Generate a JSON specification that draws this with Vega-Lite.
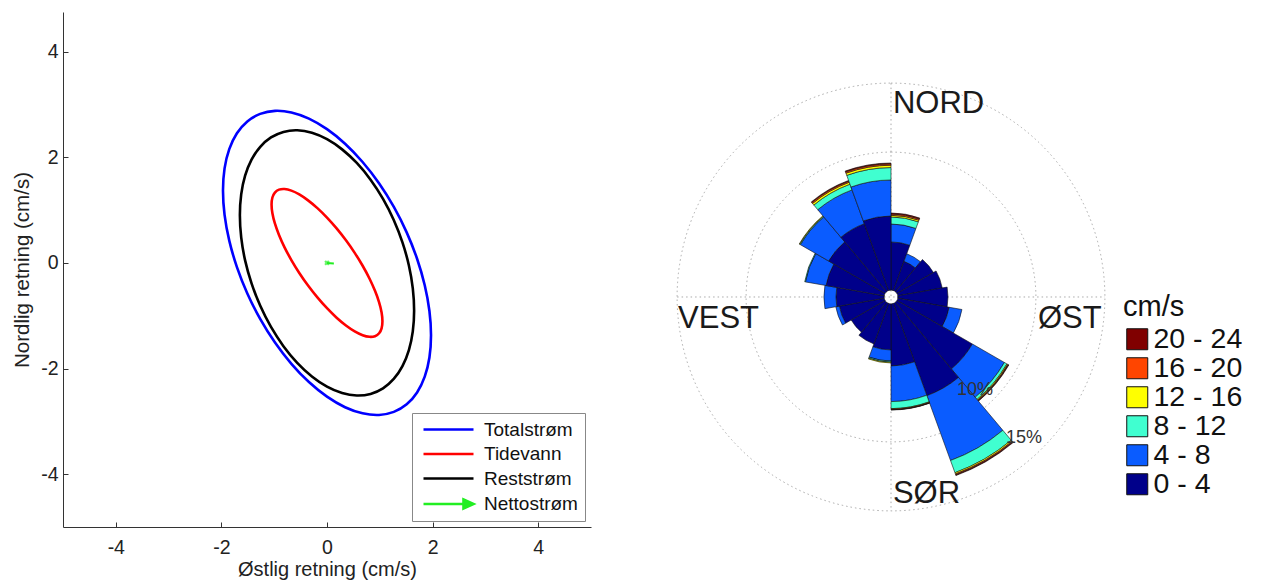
{
"$schema": "https://vega.github.io/schema/vega-lite/v6.json",
"background": "white",
"padding": {"left": 12, "top": 12, "right": 0, "bottom": 0},
"spacing": 70,
"resolve": {"scale": {"color": "independent"}, "legend": {"color": "independent"}},
"config": {"view": {"stroke": null}, "font": "Liberation Sans"},
"datasets": {
"ell": [
{"s":"Totalstrøm","i":0,"x":1.97,"y":-1.371},{"s":"Totalstrøm","i":1,"x":1.94,"y":-0.91},{"s":"Totalstrøm","i":2,"x":1.851,"y":-0.422},{"s":"Totalstrøm","i":3,"x":1.706,"y":0.079},{"s":"Totalstrøm","i":4,"x":1.509,"y":0.578},{"s":"Totalstrøm","i":5,"x":1.266,"y":1.059},{"s":"Totalstrøm","i":6,"x":0.985,"y":1.507},{"s":"Totalstrøm","i":7,"x":0.674,"y":1.91},{"s":"Totalstrøm","i":8,"x":0.342,"y":2.256},{"s":"Totalstrøm","i":9,"x":0,"y":2.532},{"s":"Totalstrøm","i":10,"x":-0.342,"y":2.732},{"s":"Totalstrøm","i":11,"x":-0.674,"y":2.848},{"s":"Totalstrøm","i":12,"x":-0.985,"y":2.879},{"s":"Totalstrøm","i":13,"x":-1.266,"y":2.821},{"s":"Totalstrøm","i":14,"x":-1.509,"y":2.678},{"s":"Totalstrøm","i":15,"x":-1.706,"y":2.453},{"s":"Totalstrøm","i":16,"x":-1.851,"y":2.154},{"s":"Totalstrøm","i":17,"x":-1.94,"y":1.79},{"s":"Totalstrøm","i":18,"x":-1.97,"y":1.371},{"s":"Totalstrøm","i":19,"x":-1.94,"y":0.91},{"s":"Totalstrøm","i":20,"x":-1.851,"y":0.422},{"s":"Totalstrøm","i":21,"x":-1.706,"y":-0.079},{"s":"Totalstrøm","i":22,"x":-1.509,"y":-0.578},{"s":"Totalstrøm","i":23,"x":-1.266,"y":-1.059},{"s":"Totalstrøm","i":24,"x":-0.985,"y":-1.507},{"s":"Totalstrøm","i":25,"x":-0.674,"y":-1.91},{"s":"Totalstrøm","i":26,"x":-0.342,"y":-2.256},{"s":"Totalstrøm","i":27,"x":0,"y":-2.532},{"s":"Totalstrøm","i":28,"x":0.342,"y":-2.732},{"s":"Totalstrøm","i":29,"x":0.674,"y":-2.848},{"s":"Totalstrøm","i":30,"x":0.985,"y":-2.879},{"s":"Totalstrøm","i":31,"x":1.266,"y":-2.821},{"s":"Totalstrøm","i":32,"x":1.509,"y":-2.678},{"s":"Totalstrøm","i":33,"x":1.706,"y":-2.453},{"s":"Totalstrøm","i":34,"x":1.851,"y":-2.154},{"s":"Totalstrøm","i":35,"x":1.94,"y":-1.79},
{"s":"Tidevann","i":0,"x":1.05,"y":-1.106},{"s":"Tidevann","i":1,"x":1.034,"y":-0.94},{"s":"Tidevann","i":2,"x":0.987,"y":-0.746},{"s":"Tidevann","i":3,"x":0.909,"y":-0.529},{"s":"Tidevann","i":4,"x":0.804,"y":-0.295},{"s":"Tidevann","i":5,"x":0.675,"y":-0.054},{"s":"Tidevann","i":6,"x":0.525,"y":0.19},{"s":"Tidevann","i":7,"x":0.359,"y":0.428},{"s":"Tidevann","i":8,"x":0.182,"y":0.653},{"s":"Tidevann","i":9,"x":0,"y":0.858},{"s":"Tidevann","i":10,"x":-0.182,"y":1.037},{"s":"Tidevann","i":11,"x":-0.359,"y":1.184},{"s":"Tidevann","i":12,"x":-0.525,"y":1.296},{"s":"Tidevann","i":13,"x":-0.675,"y":1.368},{"s":"Tidevann","i":14,"x":-0.804,"y":1.399},{"s":"Tidevann","i":15,"x":-0.909,"y":1.387},{"s":"Tidevann","i":16,"x":-0.987,"y":1.332},{"s":"Tidevann","i":17,"x":-1.034,"y":1.238},{"s":"Tidevann","i":18,"x":-1.05,"y":1.106},{"s":"Tidevann","i":19,"x":-1.034,"y":0.94},{"s":"Tidevann","i":20,"x":-0.987,"y":0.746},{"s":"Tidevann","i":21,"x":-0.909,"y":0.529},{"s":"Tidevann","i":22,"x":-0.804,"y":0.295},{"s":"Tidevann","i":23,"x":-0.675,"y":0.054},{"s":"Tidevann","i":24,"x":-0.525,"y":-0.19},{"s":"Tidevann","i":25,"x":-0.359,"y":-0.428},{"s":"Tidevann","i":26,"x":-0.182,"y":-0.653},{"s":"Tidevann","i":27,"x":0,"y":-0.858},{"s":"Tidevann","i":28,"x":0.182,"y":-1.037},{"s":"Tidevann","i":29,"x":0.359,"y":-1.184},{"s":"Tidevann","i":30,"x":0.525,"y":-1.296},{"s":"Tidevann","i":31,"x":0.675,"y":-1.368},{"s":"Tidevann","i":32,"x":0.804,"y":-1.399},{"s":"Tidevann","i":33,"x":0.909,"y":-1.387},{"s":"Tidevann","i":34,"x":0.987,"y":-1.332},{"s":"Tidevann","i":35,"x":1.034,"y":-1.238},
{"s":"Reststrøm","i":0,"x":1.65,"y":-0.904},{"s":"Reststrøm","i":1,"x":1.625,"y":-0.483},{"s":"Reststrøm","i":2,"x":1.551,"y":-0.048},{"s":"Reststrøm","i":3,"x":1.429,"y":0.388},{"s":"Reststrøm","i":4,"x":1.264,"y":0.813},{"s":"Reststrøm","i":5,"x":1.061,"y":1.213},{"s":"Reststrøm","i":6,"x":0.825,"y":1.576},{"s":"Reststrøm","i":7,"x":0.564,"y":1.892},{"s":"Reststrøm","i":8,"x":0.286,"y":2.149},{"s":"Reststrøm","i":9,"x":0,"y":2.342},{"s":"Reststrøm","i":10,"x":-0.286,"y":2.463},{"s":"Reststrøm","i":11,"x":-0.564,"y":2.51},{"s":"Reststrøm","i":12,"x":-0.825,"y":2.48},{"s":"Reststrøm","i":13,"x":-1.061,"y":2.375},{"s":"Reststrøm","i":14,"x":-1.264,"y":2.197},{"s":"Reststrøm","i":15,"x":-1.429,"y":1.954},{"s":"Reststrøm","i":16,"x":-1.551,"y":1.65},{"s":"Reststrøm","i":17,"x":-1.625,"y":1.297},{"s":"Reststrøm","i":18,"x":-1.65,"y":0.904},{"s":"Reststrøm","i":19,"x":-1.625,"y":0.483},{"s":"Reststrøm","i":20,"x":-1.551,"y":0.048},{"s":"Reststrøm","i":21,"x":-1.429,"y":-0.388},{"s":"Reststrøm","i":22,"x":-1.264,"y":-0.813},{"s":"Reststrøm","i":23,"x":-1.061,"y":-1.213},{"s":"Reststrøm","i":24,"x":-0.825,"y":-1.576},{"s":"Reststrøm","i":25,"x":-0.564,"y":-1.892},{"s":"Reststrøm","i":26,"x":-0.286,"y":-2.149},{"s":"Reststrøm","i":27,"x":0,"y":-2.342},{"s":"Reststrøm","i":28,"x":0.286,"y":-2.463},{"s":"Reststrøm","i":29,"x":0.564,"y":-2.51},{"s":"Reststrøm","i":30,"x":0.825,"y":-2.48},{"s":"Reststrøm","i":31,"x":1.061,"y":-2.375},{"s":"Reststrøm","i":32,"x":1.264,"y":-2.197},{"s":"Reststrøm","i":33,"x":1.429,"y":-1.954},{"s":"Reststrøm","i":34,"x":1.551,"y":-1.65},{"s":"Reststrøm","i":35,"x":1.625,"y":-1.297}
],
"net": [{"s":"Nettostrøm","i":0,"x":0,"y":0},{"s":"Nettostrøm","i":1,"x":0.13,"y":-0.01}],
"rose": [
{"d":0,"d2":20,"c":"0 - 4","p0":0,"p1":3.49},{"d":0,"d2":20,"c":"4 - 8","p0":3.49,"p1":4.79},{"d":0,"d2":20,"c":"8 - 12","p0":4.79,"p1":5.3},{"d":0,"d2":20,"c":"12 - 16","p0":5.3,"p1":5.42},{"d":0,"d2":20,"c":"16 - 20","p0":5.42,"p1":5.52},{"d":0,"d2":20,"c":"20 - 24","p0":5.52,"p1":5.59},
{"d":20,"d2":40,"c":"0 - 4","p0":0,"p1":2.25},{"d":20,"d2":40,"c":"4 - 8","p0":2.25,"p1":2.83},
{"d":40,"d2":60,"c":"0 - 4","p0":0,"p1":3.05},
{"d":60,"d2":80,"c":"0 - 4","p0":0,"p1":3.27},
{"d":80,"d2":100,"c":"0 - 4","p0":0,"p1":3.63},
{"d":100,"d2":120,"c":"0 - 4","p0":0,"p1":3.78},{"d":100,"d2":120,"c":"4 - 8","p0":3.78,"p1":4.72},
{"d":120,"d2":140,"c":"0 - 4","p0":0,"p1":6.31},{"d":120,"d2":140,"c":"4 - 8","p0":6.31,"p1":8.99},{"d":120,"d2":140,"c":"8 - 12","p0":8.99,"p1":9.2},{"d":120,"d2":140,"c":"12 - 16","p0":9.2,"p1":9.27},{"d":120,"d2":140,"c":"16 - 20","p0":9.27,"p1":9.32},{"d":120,"d2":140,"c":"20 - 24","p0":9.32,"p1":9.36},
{"d":140,"d2":160,"c":"0 - 4","p0":0,"p1":7.11},{"d":140,"d2":160,"c":"4 - 8","p0":7.11,"p1":12.11},{"d":140,"d2":160,"c":"8 - 12","p0":12.11,"p1":13.05},{"d":140,"d2":160,"c":"12 - 16","p0":13.05,"p1":13.15},{"d":140,"d2":160,"c":"16 - 20","p0":13.15,"p1":13.22},{"d":140,"d2":160,"c":"20 - 24","p0":13.22,"p1":13.27},
{"d":160,"d2":180,"c":"0 - 4","p0":0,"p1":4.5},{"d":160,"d2":180,"c":"4 - 8","p0":4.5,"p1":7.08},{"d":160,"d2":180,"c":"8 - 12","p0":7.08,"p1":7.59},{"d":160,"d2":180,"c":"12 - 16","p0":7.59,"p1":7.64},{"d":160,"d2":180,"c":"16 - 20","p0":7.64,"p1":7.67},{"d":160,"d2":180,"c":"20 - 24","p0":7.67,"p1":7.69},
{"d":180,"d2":200,"c":"0 - 4","p0":0,"p1":3.34},{"d":180,"d2":200,"c":"4 - 8","p0":3.34,"p1":4.14},{"d":180,"d2":200,"c":"8 - 12","p0":4.14,"p1":4.22},{"d":180,"d2":200,"c":"12 - 16","p0":4.22,"p1":4.28},
{"d":200,"d2":220,"c":"0 - 4","p0":0,"p1":3.12},
{"d":220,"d2":240,"c":"0 - 4","p0":0,"p1":2.83},
{"d":240,"d2":260,"c":"0 - 4","p0":0,"p1":3.3},{"d":240,"d2":260,"c":"4 - 8","p0":3.3,"p1":3.56},
{"d":260,"d2":280,"c":"0 - 4","p0":0,"p1":3.49},{"d":260,"d2":280,"c":"4 - 8","p0":3.49,"p1":4.36},
{"d":280,"d2":300,"c":"0 - 4","p0":0,"p1":4.28},{"d":280,"d2":300,"c":"4 - 8","p0":4.28,"p1":5.8},{"d":280,"d2":300,"c":"8 - 12","p0":5.8,"p1":5.85},
{"d":300,"d2":320,"c":"0 - 4","p0":0,"p1":4.72},{"d":300,"d2":320,"c":"4 - 8","p0":4.72,"p1":7.08},{"d":300,"d2":320,"c":"8 - 12","p0":7.08,"p1":7.14},{"d":300,"d2":320,"c":"12 - 16","p0":7.14,"p1":7.18},
{"d":320,"d2":340,"c":"0 - 4","p0":0,"p1":5.15},{"d":320,"d2":340,"c":"4 - 8","p0":5.15,"p1":7.76},{"d":320,"d2":340,"c":"8 - 12","p0":7.76,"p1":8.2},{"d":320,"d2":340,"c":"12 - 16","p0":8.2,"p1":8.35},{"d":320,"d2":340,"c":"16 - 20","p0":8.35,"p1":8.44},{"d":320,"d2":340,"c":"20 - 24","p0":8.44,"p1":8.49},
{"d":340,"d2":360,"c":"0 - 4","p0":0,"p1":5.37},{"d":340,"d2":360,"c":"4 - 8","p0":5.37,"p1":7.98},{"d":340,"d2":360,"c":"8 - 12","p0":7.98,"p1":8.88},{"d":340,"d2":360,"c":"12 - 16","p0":8.88,"p1":9.05},{"d":340,"d2":360,"c":"16 - 20","p0":9.05,"p1":9.15},{"d":340,"d2":360,"c":"20 - 24","p0":9.15,"p1":9.21}
],
"cross": [{"x":0,"y":15.5,"x2":0,"y2":-15.5},{"x":-15.5,"y":0,"x2":15.5,"y2":0}],
"rings": [{"p":10},{"p":15}],
"compass": [{"t":"NORD","x":0.14,"y":13.33},{"t":"ØST","x":10.65,"y":-2.25},{"t":"VEST","x":-15.43,"y":-2.25},{"t":"SØR","x":0.14,"y":-14.93}],
"pct": [{"t":"10%","x":7.39,"y":-7.1},{"t":"15%","x":10.94,"y":-10.58}]
},
"hconcat": [
{
"width": 528, "height": 515,
"encoding": {
  "x": {"field": "x", "type": "quantitative", "scale": {"domain": [-5, 5], "nice": false, "zero": false},
        "axis": {"values": [-4, -2, 0, 2, 4], "labelExpr": "'' + datum.value", "title": "Østlig retning (cm/s)", "grid": false, "tickSize": -5, "labelPadding": 16, "labelFontSize": 19.5, "titleFontSize": 20, "titleFontWeight": "normal", "titlePadding": 3, "domainColor": "#333", "tickColor": "#333", "labelColor": "#222", "titleColor": "#222", "labelFont": "Liberation Sans", "titleFont": "Liberation Sans"}},
  "y": {"field": "y", "type": "quantitative", "scale": {"domain": [-5, 4.75], "nice": false, "zero": false},
        "axis": {"values": [-4, -2, 0, 2, 4], "labelExpr": "'' + datum.value", "title": "Nordlig retning (cm/s)", "grid": false, "tickSize": -5, "labelPadding": 10, "labelFontSize": 19.5, "titleFontSize": 20.5, "titleFontWeight": "normal", "titlePadding": 8, "domainColor": "#333", "tickColor": "#333", "labelColor": "#222", "titleColor": "#222", "labelFont": "Liberation Sans", "titleFont": "Liberation Sans"}}
},
"layer": [
{"data": {"name": "ell"},
 "mark": {"type": "line", "strokeWidth": 2.6, "interpolate": "cardinal-closed", "clip": true},
 "encoding": {
  "color": {"field": "s", "type": "nominal",
   "scale": {"domain": ["Totalstrøm", "Tidevann", "Reststrøm", "Nettostrøm"], "range": ["#0000ff", "#ff0000", "#000000", "#22ee22"]},
   "legend": {"orient": "bottom-right", "offset": 6, "title": null, "fillColor": "white", "strokeColor": "#888", "padding": 7,
     "labelFontSize": 19, "labelFont": "Liberation Sans", "labelColor": "#111", "symbolType": "M-1,0H9", "symbolSize": 100, "symbolStrokeWidth": 2.6, "labelOffset": 46, "rowPadding": 4.5,
     "encode": {"symbols": {"update": {"shape": {"signal": "datum.value === 'Nettostrøm' ? 'M-1,0H7.4M7,-0.9L9,0L7,0.9Z' : 'M-1,0H9'"}, "fill": {"signal": "datum.value === 'Nettostrøm' ? '#22ee22' : 'transparent'"}}}}}},
  "order": {"field": "i", "type": "quantitative"}
 }},
{"data": {"name": "net"},
 "mark": {"type": "line", "strokeWidth": 2, "color": "#22ee22"},
 "encoding": {"order": {"field": "i", "type": "quantitative"}}},
{"data": {"name": "net"},
 "transform": [{"filter": "datum.i === 0"}],
 "mark": {"type": "point", "shape": "cross", "angle": 45, "size": 30, "filled": true, "color": "#22ee22"}}
]
},
{
"width": 460, "height": 515,
"layer": [
{"data": {"name": "cross"},
 "mark": {"type": "rule", "stroke": "#aaa", "strokeDash": [1.5, 3], "strokeWidth": 1},
 "encoding": {
  "x": {"field": "x", "type": "quantitative", "scale": {"domain": [-16.667, 16.667], "nice": false, "zero": false}, "axis": null},
  "y": {"field": "y", "type": "quantitative", "scale": {"domain": [-16.667, 20.652], "nice": false, "zero": false}, "axis": null},
  "x2": {"field": "x2"}, "y2": {"field": "y2"}}},
{"data": {"name": "rings"},
 "mark": {"type": "arc", "theta": 0, "theta2": 6.2832, "filled": false, "fill": null, "stroke": "#aaa", "strokeDash": [1.5, 3], "strokeWidth": 1},
 "encoding": {
  "x": {"datum": 0, "type": "quantitative"},
  "y": {"datum": 0, "type": "quantitative"},
  "radius": {"field": "p", "type": "quantitative", "stack": null, "scale": {"type": "linear", "domain": [-0.5, 15], "range": [0, 213.9], "zero": false, "nice": false}}}},
{"data": {"name": "rose"},
 "mark": {"type": "arc", "stroke": "#111", "strokeWidth": 0.6},
 "encoding": {
  "x": {"datum": 0, "type": "quantitative"},
  "y": {"datum": 0, "type": "quantitative"},
  "theta": {"field": "d", "type": "quantitative", "stack": null, "scale": {"domain": [0, 360], "range": [0, 6.283185307]}},
  "theta2": {"field": "d2"},
  "radius": {"field": "p1", "type": "quantitative", "stack": null, "scale": {"type": "linear", "domain": [-0.5, 15], "range": [0, 213.9], "zero": false, "nice": false}},
  "radius2": {"field": "p0"},
  "color": {"field": "c", "type": "nominal",
   "scale": {"domain": ["20 - 24", "16 - 20", "12 - 16", "8 - 12", "4 - 8", "0 - 4"], "range": ["#800000", "#ff4500", "#ffff00", "#40ffd0", "#0a5cff", "#00008a"]},
   "legend": {"orient": "none", "legendX": 462, "legendY": 281, "title": "cm/s", "titleFontSize": 29, "titleFontWeight": "normal", "titleFont": "Liberation Sans", "titleColor": "#111", "titlePadding": 3,
     "labelFontSize": 28.5, "labelFont": "Liberation Sans", "labelColor": "#111", "symbolType": "square", "symbolSize": 441, "symbolStrokeColor": "#111", "symbolStrokeWidth": 1, "symbolOpacity": 1, "labelOffset": 2, "rowPadding": 0, "padding": 0}}
 }},
{"data": {"name": "compass"},
 "mark": {"type": "text", "align": "left", "baseline": "alphabetic", "fontSize": 31, "font": "Liberation Sans", "color": "#1a1a1a"},
 "encoding": {"x": {"field": "x", "type": "quantitative"}, "y": {"field": "y", "type": "quantitative"}, "text": {"field": "t"}}},
{"data": {"name": "pct"},
 "mark": {"type": "text", "align": "right", "baseline": "alphabetic", "fontSize": 18, "font": "Liberation Sans", "color": "#333"},
 "encoding": {"x": {"field": "x", "type": "quantitative"}, "y": {"field": "y", "type": "quantitative"}, "text": {"field": "t"}}}
]
}
]
}
